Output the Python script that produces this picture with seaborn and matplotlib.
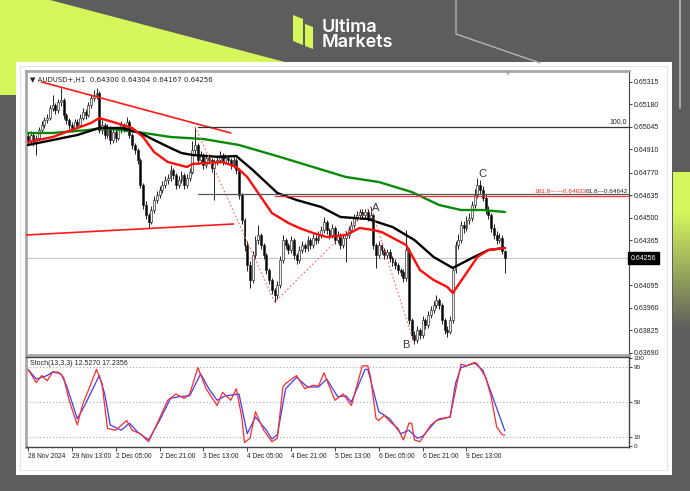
import numpy as np
import matplotlib
matplotlib.use("Agg")
import matplotlib.pyplot as plt
import matplotlib.transforms as mtransforms
from matplotlib.patches import Polygon, Rectangle
from matplotlib.colors import LinearSegmentedColormap
import seaborn as sns

sns.set_style("white")
plt.rcParams['font.family'] = ['Liberation Sans', 'DejaVu Sans']

# ---------------- data ----------------
first_open = 0.64990
closes = [
    0.64966, 0.64996, 0.64954, 0.64978, 0.65026, 0.65056, 0.65086, 0.65098, 0.65158, 0.65176,
    0.65146, 0.65194, 0.65206, 0.65116, 0.65086, 0.65056, 0.65038, 0.65074, 0.65056, 0.65098,
    0.65134, 0.65116, 0.65176, 0.65218, 0.65236, 0.65248, 0.65026, 0.65056, 0.64996, 0.65038,
    0.64966, 0.65014, 0.64978, 0.65026, 0.65056, 0.65038, 0.65074, 0.64996, 0.64936, 0.64906,
    0.64846, 0.64696, 0.64576, 0.64516, 0.64474, 0.64546, 0.64606, 0.64636, 0.64666, 0.64696,
    0.64726, 0.64738, 0.64786, 0.64756, 0.64696, 0.64726, 0.64756, 0.64696, 0.64738, 0.64774,
    0.64906, 0.64936, 0.64846, 0.64876, 0.64816, 0.64858, 0.64846, 0.64798, 0.64834, 0.64846,
    0.64876, 0.64834, 0.64858, 0.64846, 0.64816, 0.64846, 0.64786, 0.64636, 0.64486, 0.64336,
    0.64216, 0.64126, 0.64276, 0.64366, 0.64396, 0.64336, 0.64276, 0.64186, 0.64126, 0.64066,
    0.64036, 0.64096, 0.64246, 0.64366, 0.64336, 0.64306, 0.64366, 0.64276, 0.64246, 0.64306,
    0.64336, 0.64318, 0.64366, 0.64336, 0.64378, 0.64366, 0.64396, 0.64426, 0.64474, 0.64426,
    0.64396, 0.64438, 0.64366, 0.64396, 0.64336, 0.64378, 0.64396, 0.64426, 0.64456, 0.64498,
    0.64516, 0.64534, 0.64516, 0.64534, 0.64498, 0.64516, 0.64336, 0.64276, 0.64336, 0.64306,
    0.64276, 0.64294, 0.64258, 0.64234, 0.64216, 0.64186, 0.64174, 0.64138, 0.64306, 0.63886,
    0.63796, 0.63766, 0.63826, 0.63796, 0.63886, 0.63856, 0.63916, 0.63946, 0.63976, 0.64006,
    0.63976, 0.63886, 0.63826, 0.63814, 0.63886, 0.64186, 0.64336, 0.64366, 0.64456, 0.64438,
    0.64486, 0.64498, 0.64576, 0.64636, 0.64696, 0.64666, 0.64618, 0.64546, 0.64516, 0.64438,
    0.64396, 0.64366, 0.64378, 0.64300, 0.64256]
highs = [
    0.65010, 0.65020, 0.65010, 0.64995, 0.65045, 0.65080, 0.65105, 0.65125, 0.65175, 0.65236,
    0.65190, 0.65215, 0.65278, 0.65220, 0.65130, 0.65100, 0.65075, 0.65095, 0.65090, 0.65120,
    0.65160, 0.65150, 0.65195, 0.65240, 0.65266, 0.65278, 0.65260, 0.65085, 0.65070, 0.65060,
    0.65050, 0.65035, 0.65030, 0.65050, 0.65080, 0.65070, 0.65104, 0.65085, 0.65010, 0.64950,
    0.64920, 0.64860, 0.64710, 0.64600, 0.64530, 0.64570, 0.64630, 0.64660, 0.64690, 0.64720,
    0.64750, 0.64765, 0.64816, 0.64800, 0.64770, 0.64750, 0.64780, 0.64770, 0.64760, 0.64800,
    0.64960, 0.65044, 0.64950, 0.64900, 0.64890, 0.64880, 0.64880, 0.64860, 0.64855, 0.64875,
    0.64900, 0.64890, 0.64880, 0.64875, 0.64860, 0.64870, 0.64860, 0.64800, 0.64650, 0.64500,
    0.64360, 0.64240, 0.64300, 0.64390, 0.64456, 0.64410, 0.64350, 0.64290, 0.64200, 0.64140,
    0.64080, 0.64120, 0.64270, 0.64396, 0.64380, 0.64350, 0.64390, 0.64380, 0.64290, 0.64330,
    0.64360, 0.64350, 0.64390, 0.64380, 0.64400, 0.64395, 0.64420, 0.64450, 0.64504, 0.64485,
    0.64440, 0.64460, 0.64450, 0.64420, 0.64410, 0.64400, 0.64420, 0.64450, 0.64480, 0.64520,
    0.64540, 0.64555, 0.64550, 0.64555, 0.64550, 0.64564, 0.64530, 0.64350, 0.64360, 0.64350,
    0.64320, 0.64315, 0.64310, 0.64270, 0.64250, 0.64230, 0.64200, 0.64190, 0.64426, 0.64320,
    0.63900, 0.63820, 0.63850, 0.63840, 0.63910, 0.63900, 0.63940, 0.63970, 0.64000, 0.64036,
    0.64020, 0.63990, 0.63900, 0.63850, 0.63910, 0.64210, 0.64360, 0.64400, 0.64480, 0.64480,
    0.64510, 0.64530, 0.64600, 0.64670, 0.64738, 0.64726, 0.64690, 0.64640, 0.64570, 0.64530,
    0.64460, 0.64420, 0.64410, 0.64395, 0.64304]
lows = [
    0.64940, 0.64950, 0.64930, 0.64876, 0.64960, 0.65010, 0.65040, 0.65070, 0.65085, 0.65140,
    0.65120, 0.65130, 0.65170, 0.65095, 0.65060, 0.65030, 0.65015, 0.65020, 0.65030, 0.65045,
    0.65085, 0.65095, 0.65105, 0.65160, 0.65200, 0.65210, 0.65010, 0.65000, 0.64975, 0.64980,
    0.64945, 0.64950, 0.64955, 0.64965, 0.65010, 0.65015, 0.65025, 0.64980, 0.64915, 0.64880,
    0.64825, 0.64680, 0.64550, 0.64490, 0.64438, 0.64460, 0.64530, 0.64590, 0.64620, 0.64650,
    0.64680, 0.64700, 0.64720, 0.64735, 0.64670, 0.64680, 0.64710, 0.64675, 0.64680, 0.64720,
    0.64760, 0.64880, 0.64820, 0.64830, 0.64795, 0.64800, 0.64825, 0.64775, 0.64606, 0.64815,
    0.64830, 0.64815, 0.64820, 0.64825, 0.64795, 0.64800, 0.64765, 0.64610, 0.64460, 0.64300,
    0.64180, 0.64078, 0.64110, 0.64250, 0.64340, 0.64310, 0.64250, 0.64160, 0.64100, 0.64040,
    0.63994, 0.64010, 0.64080, 0.64230, 0.64310, 0.64280, 0.64290, 0.64250, 0.64220, 0.64230,
    0.64290, 0.64295, 0.64300, 0.64315, 0.64320, 0.64345, 0.64350, 0.64380, 0.64410, 0.64405,
    0.64375, 0.64380, 0.64345, 0.64350, 0.64315, 0.64320, 0.64234, 0.64380, 0.64410, 0.64440,
    0.64480, 0.64495, 0.64495, 0.64500, 0.64480, 0.64485, 0.64310, 0.64198, 0.64260, 0.64285,
    0.64255, 0.64260, 0.64235, 0.64210, 0.64190, 0.64165, 0.64150, 0.64115, 0.64120, 0.63860,
    0.63770, 0.63742, 0.63750, 0.63775, 0.63780, 0.63830, 0.63840, 0.63900, 0.63930, 0.63960,
    0.63950, 0.63865, 0.63800, 0.63784, 0.63800, 0.63870, 0.64170, 0.64310, 0.64350, 0.64410,
    0.64420, 0.64460, 0.64480, 0.64560, 0.64620, 0.64640, 0.64600, 0.64520, 0.64490, 0.64415,
    0.64370, 0.64340, 0.64350, 0.64280, 0.64167]

# moving averages (read at key bars)
ma_fast_idx = [0, 9, 18, 23, 26, 31, 38, 42, 46, 51, 58, 60, 65, 71, 76, 80, 85, 89, 95, 99,
               104, 109, 116, 121, 126, 129, 138, 143, 148, 153, 155, 159, 164, 168, 174]
ma_fast = [0.64954, 0.64984, 0.65038, 0.65068, 0.65098, 0.65074, 0.65038, 0.64984, 0.64894, 0.64834,
           0.64804, 0.64822, 0.64828, 0.64834, 0.64804, 0.64744, 0.64624, 0.64528, 0.64468, 0.64438,
           0.64408, 0.64384, 0.64396, 0.64438, 0.64426, 0.64414, 0.64336, 0.64186, 0.64126, 0.64084,
           0.64048, 0.64144, 0.64264, 0.64306, 0.64318]
ma_mid_idx = [0, 9, 18, 26, 34, 41, 46, 52, 56, 60, 70, 76, 82, 91, 98, 107, 114, 124, 133, 141,
              148, 155, 162, 168, 174]
ma_mid = [0.64936, 0.64966, 0.64996, 0.65038, 0.65038, 0.65008, 0.64966, 0.64918, 0.64888, 0.64876,
          0.64864, 0.64870, 0.64786, 0.64648, 0.64606, 0.64564, 0.64504, 0.64492, 0.64444, 0.64366,
          0.64264, 0.64198, 0.64258, 0.64306, 0.64318]
ma_slow_idx = [0, 9, 22, 27, 40, 52, 64, 77, 92, 104, 116, 128, 140, 150, 158, 166, 174]
ma_slow = [0.65008, 0.65008, 0.65026, 0.65038, 0.65014, 0.64984, 0.64972, 0.64936, 0.64864, 0.64804,
           0.64744, 0.64714, 0.64654, 0.64576, 0.64546, 0.64546, 0.64534]

# drawing objects
res_line_idx = [5, 74]
res_line = [0.65314, 0.65008]
sup_line_idx = [-0.7, 75]
sup_line = [0.64396, 0.64462]
zig_idx = [61, 90, 125, 141]
zig = [0.65044, 0.63994, 0.64564, 0.63742]
fib_100 = 0.65046
fib_618 = 0.64642
fib_1618 = 0.64633
last_price = 0.64256
wave_labels = ['A', 'B', 'C']
wave_idx = [127, 138, 165.7]
wave_price = [0.64558, 0.63736, 0.64762]

# stochastic
stoch_k_idx = [0, 3, 5, 7, 9, 11, 13, 15, 18, 20, 22, 25, 27, 29, 32, 36, 38, 41, 44, 46, 51, 54,
               57, 59, 62, 65, 69, 71, 74, 76, 78, 79, 81, 83, 86, 89, 91, 93, 94, 98, 101, 104,
               106, 108, 112, 115, 118, 122, 124, 125, 127, 128, 130, 132, 135, 137, 139, 140,
               141, 143, 147, 150, 154, 156, 158, 160, 163, 164, 167, 169, 171, 173, 174]
stoch_k = [87, 72, 80, 74, 84, 84, 78, 52, 24, 48, 63, 87, 71, 20, 18, 29, 18, 14, 5, 18, 52, 59,
           54, 59, 89, 65, 46, 61, 52, 65, 33, 4, 9, 39, 18, 5, 9, 67, 71, 80, 65, 69,
           68, 83, 52, 59, 46, 91, 91, 78, 31, 29, 35, 28, 20, 7, 26, 26,
           7, 5, 24, 31, 33, 63, 93, 91, 95, 93, 78, 56, 22, 13, 12.53]
stoch_d_idx = [0, 3, 7, 9, 12, 14, 18, 21, 26, 28, 30, 34, 37, 40, 44, 48, 52, 55, 59, 63, 66, 69,
               72, 77, 80, 83, 87, 89, 91, 94, 98, 102, 106, 109, 113, 116, 118, 123, 124, 128,
               132, 136, 139, 142, 144, 149, 154, 156, 158, 163, 166, 170, 174]
stoch_d = [87, 76, 80, 84, 82, 69, 31, 48, 80, 59, 24, 18, 26, 16, 7, 29, 54, 56, 57, 82, 65, 52,
           57, 59, 14, 33, 18, 8, 13, 65, 78, 67, 67, 76, 56, 57, 50, 87, 87, 39,
           31, 14, 18, 9, 11, 29, 33, 71, 89, 94, 86, 52, 17.24]

time_tick_idx = [0, 16, 32, 48, 64, 80, 96, 112, 128, 144, 160]
time_labels = ["28 Nov 2024", "29 Nov 13:00", "2 Dec 05:00", "2 Dec 21:00", "3 Dec 13:00",
               "4 Dec 05:00", "4 Dec 21:00", "5 Dec 13:00", "6 Dec 05:00", "6 Dec 21:00",
               "9 Dec 13:00"]
price_ticks = [0.65315, 0.65180, 0.65045, 0.64910, 0.64770, 0.64635, 0.64500, 0.64365,
               0.64230, 0.64095, 0.63960, 0.63825, 0.63690]
price_labels = ["0.65315", "0.65180", "0.65045", "0.64910", "0.64770", "0.64635", "0.64500",
                "0.64365", "0.64230", "0.64095", "0.63960", "0.63825", "0.63690"]
stoch_ticks = [0, 10, 50, 90, 100]

# ---------------- figure ----------------
W, H = 690, 491
GRAY = '#5d5d5d'
YEL = '#d5f75c'
fig = plt.figure(figsize=(W / 100, H / 100), dpi=100)
fig.patch.set_facecolor(GRAY)

bg = fig.add_axes([0, 0, 1, 1], zorder=0)
bg.set_facecolor(GRAY)
bg.add_patch(Polygon([(0, 0), (50, 0), (300, 66), (16, 66), (16, 95), (0, 95)],
                     closed=True, color=YEL, lw=0))
cmap = LinearSegmentedColormap.from_list('g', [(0, YEL), (0.25, YEL), (1, GRAY)])
bg.imshow(np.linspace(0, 1, 200).reshape(-1, 1), extent=(673, 690, 330, 172),
          cmap=cmap, aspect='auto', interpolation='bilinear')
bg.plot([680, 680], [0, 108], color='#b4b4b4', lw=1.3)
bg.plot([456, 456, 540], [0, 34, 63], color='#b4b4b4', lw=1.0)
bg.add_patch(Rectangle((16, 62), 656, 413, facecolor='white', edgecolor='none'))
bg.add_patch(Rectangle((20, 66), 647, 404, facecolor='none', edgecolor='#e4e4e4', lw=0.8))
# logo
bg.add_patch(Polygon([(293, 15), (303, 19), (303, 45), (293, 41)], closed=True, color=YEL, lw=0))
bg.add_patch(Polygon([(305, 24), (313, 27), (313, 49), (305, 46)], closed=True, color=YEL, lw=0))
bg.text(322, 47, "Ultima\nMarkets", color='white', fontsize=13, family='Inter',
        weight='semibold', va='baseline', ha='left', multialignment='left', linespacing=0.86)
bg.set_xlim(0, W)
bg.set_ylim(H, 0)
bg.axis('off')

# ---------------- main chart ----------------
ax = fig.add_axes([26 / W, 1 - 355 / H, 603 / W, 284 / H], zorder=2)
ax.set_facecolor('white')
idx = np.arange(len(closes))
c = np.array(closes)
o = np.array([first_open] + closes[:-1])
hi = np.array(highs)
lo = np.array(lows)
up = c >= o

ax.axhline(last_price, color='#c8c8c8', lw=0.8, zorder=1)
ax.vlines(idx, lo, hi, color='#222222', lw=0.7, zorder=2)
body_h = np.maximum(np.abs(c - o), 0.00002)
ax.bar(idx, body_h, bottom=np.minimum(o, c), width=0.7,
       color=np.where(up, '#f2f2f2', 'black'), edgecolor='#222222', lw=0.45, zorder=3)

sns.lineplot(x=ma_slow_idx, y=ma_slow, ax=ax, color='#0a8a0a', lw=1.7, zorder=4)
sns.lineplot(x=ma_mid_idx, y=ma_mid, ax=ax, color='black', lw=1.7, zorder=4)
sns.lineplot(x=ma_fast_idx, y=ma_fast, ax=ax, color='#ff0d0d', lw=1.7, zorder=5)

ax.plot(res_line_idx, res_line, color='#ff1a1a', lw=1.2, zorder=5)
ax.plot(sup_line_idx, sup_line, color='#ff1a1a', lw=1.2, zorder=5)
ax.plot(zig_idx, zig, color='#ff6060', lw=0.8, ls=(0, (1.5, 2)), zorder=5)
xmax = 219.3
ax.plot([62, xmax], [fib_100, fib_100], color='#333333', lw=0.9, zorder=5)
ax.plot([62, xmax], [fib_618, fib_618], color='#555555', lw=0.9, zorder=5)
ax.plot([90, xmax], [fib_1618, fib_1618], color='#ff3030', lw=0.9, zorder=5)

trans = mtransforms.blended_transform_factory(ax.transAxes, ax.transData)
ax.text(0.997, fib_100 + 0.00003, "100.0", transform=trans, ha='right', va='bottom',
        fontsize=5, color='#222222')
ax.text(0.929, fib_618 + 0.00002, "161.8\u2014\u20140.64633", transform=trans, ha='right',
        va='bottom', fontsize=4.6, color='#ff2020')
ax.text(0.998, fib_618 + 0.00002, "61.8\u20140.64642", transform=trans, ha='right',
        va='bottom', fontsize=4.6, color='#222222')
for lab, xi, yi in zip(wave_labels, wave_idx, wave_price):
    ax.text(xi, yi, lab, ha='center', va='center', fontsize=8, color='#333344')

ax.text(0.007, 0.98, "\u25bc AUDUSD+,H1  0.64300 0.64304 0.64167 0.64256", transform=ax.transAxes,
        ha='left', va='top', fontsize=5, color='#222222', family=['DejaVu Sans'])
ax.text(175.2, 1.0, "\u25bc", transform=mtransforms.blended_transform_factory(ax.transData, ax.transAxes),
        ha='center', va='top', fontsize=4, color='#a0a0a0', family=['DejaVu Sans'])

ax.set_xlim(-0.73, xmax)
ax.set_ylim(0.63676, 0.65380)
ax.set_xticks([])
ax.yaxis.tick_right()
ax.set_yticks(price_ticks)
ax.set_yticklabels(price_labels)
ax.tick_params(axis='y', labelsize=5, length=2, width=0.6, pad=1.5, colors='#222222', direction='out')
ax.set_xlabel('')
ax.set_ylabel('')
ax.text(1.003, last_price, "0.64256", transform=trans, ha='left', va='center', fontsize=5,
        color='white', zorder=10, clip_on=False,
        bbox=dict(boxstyle='square,pad=0.35', facecolor='black', edgecolor='black'))
for s in ['top', 'left', 'bottom']:
    ax.spines[s].set_color('#a8a8a8')
    ax.spines[s].set_linewidth(2)
ax.spines['right'].set_color('#444444')
ax.spines['right'].set_linewidth(0.8)

# ---------------- stochastic ----------------
ax2 = fig.add_axes([26 / W, 1 - 447 / H, 603 / W, 90 / H], zorder=2)
ax2.set_facecolor('white')
for lv in [10, 50, 90]:
    ax2.axhline(lv, color='#a0a8b4', lw=0.8, ls=(0, (1, 2)))
sns.lineplot(x=stoch_d_idx, y=stoch_d, ax=ax2, color='#3c3cff', lw=0.9)
sns.lineplot(x=stoch_k_idx, y=stoch_k, ax=ax2, color='#ff2a2a', lw=0.9)
ax2.text(0.007, 0.97, "Stoch(13,3,3) 12.5270 17.2356", transform=ax2.transAxes, ha='left',
         va='top', fontsize=5, color='#222222')
ax2.set_xlim(-0.73, xmax)
ax2.set_ylim(-1, 101)
ax2.yaxis.tick_right()
ax2.set_yticks(stoch_ticks)
ax2.set_yticklabels([str(t) for t in stoch_ticks])
ax2.tick_params(axis='y', labelsize=4.6, length=2, width=0.6, pad=1.5, colors='#222222')
ax2.set_xticks(time_tick_idx)
ax2.set_xticklabels(time_labels)
for lab in ax2.get_xticklabels():
    lab.set_horizontalalignment('left')
ax2.tick_params(axis='x', labelsize=4.8, length=3, width=0.6, pad=1.5, colors='#222222',
                direction='out', bottom=True)
ax2.set_xlabel('')
ax2.set_ylabel('')
for s in ['top', 'right', 'bottom']:
    ax2.spines[s].set_color('#444444')
    ax2.spines[s].set_linewidth(1.0)
ax2.spines['left'].set_color('#a8a8a8')
ax2.spines['left'].set_linewidth(2)

fig.savefig("out.png", dpi=100, facecolor=fig.get_facecolor())
